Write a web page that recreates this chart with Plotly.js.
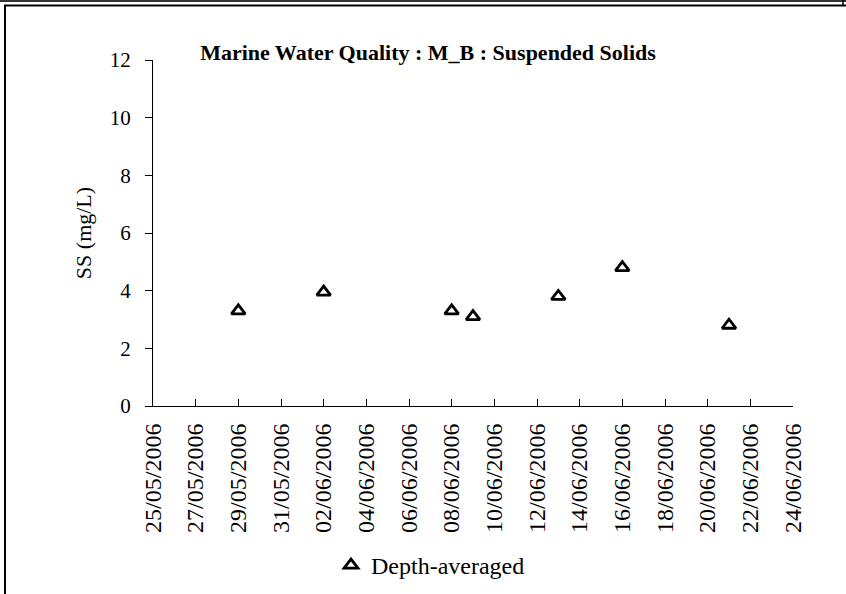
<!DOCTYPE html>
<html>
<head>
<meta charset="utf-8">
<script src="https://cdn.plot.ly/plotly-3.0.1.min.js"></script>
<style>html,body{margin:0;padding:0;background:#fff;}#chart{width:846px;height:594px;}</style>
</head>
<body>
<div id="chart"></div>
<script>
// ---- data ----
var sampleDates = ["2006-05-29", "2006-06-02", "2006-06-08", "2006-06-09", "2006-06-13", "2006-06-16", "2006-06-21"];
var ssDepthAveraged = [3.3, 3.95, 3.3, 3.1, 3.8, 4.8, 2.8];
var seriesName = "Depth-averaged";
var chartTitle = "Marine Water Quality : M_B : Suspended Solids";
var yAxisTitle = "SS (mg/L)";
var xRange = ["2006-05-25", "2006-06-24"];
var yRange = [0, 12];

// ---- layout helpers (pixel -> paper) ----
var W = 846, H = 594;
var L = 153, R = 53, T = 60, B = 188;
var pw = W - L - R, ph = H - T - B;
function fx(px) { return (px - L) / pw; }
function fy(py) { return (H - B - py) / ph; }

var serif = "Liberation Serif, Times New Roman, serif";

var trace = {
  x: sampleDates,
  y: ssDepthAveraged,
  type: "scatter",
  mode: "markers",
  name: seriesName,
  marker: { symbol: "triangle-up-open", size: 12, color: "#000", line: { width: 2.8, color: "#000" } },
  cliponaxis: false
};

var frameShapes = [
  { type: "line", xref: "paper", yref: "paper", x0: fx(0), x1: fx(846), y0: fy(1), y1: fy(1), line: { color: "#333", width: 2 } },
  { type: "line", xref: "paper", yref: "paper", x0: fx(4), x1: fx(846), y0: fy(5.5), y1: fy(5.5), line: { color: "#000", width: 2 } },
  { type: "line", xref: "paper", yref: "paper", x0: fx(5), x1: fx(5), y0: fy(5), y1: fy(594), line: { color: "#000", width: 2 } },
  { type: "line", xref: "paper", yref: "paper", x0: fx(843), x1: fx(843), y0: fy(0), y1: fy(6), line: { color: "#000", width: 1.5 } }
];

var layout = {
  width: W, height: H,
  margin: { l: L, r: R, t: T, b: B, autoexpand: false },
  paper_bgcolor: "#fff",
  plot_bgcolor: "#fff",
  font: { family: serif, color: "#000" },
  title: {
    text: "<b>" + chartTitle + "</b>",
    font: { family: serif, size: 22, color: "#000" },
    xref: "container", yref: "container",
    x: 428 / W, xanchor: "center",
    y: 1 - 52 / H, yanchor: "middle"
  },
  xaxis: {
    type: "date",
    range: xRange,
    tick0: "2006-05-25",
    dtick: 2 * 86400000,
    tickformat: "%d/%m/%Y",
    tickangle: -90,
    ticks: "inside",
    ticklen: 7,
    tickcolor: "#000",
    tickwidth: 1,
    ticklabelstandoff: 7,
    showline: true, linecolor: "#000", linewidth: 1,
    showgrid: false, zeroline: false,
    tickfont: { family: serif, size: 24, color: "#000" },
    fixedrange: true
  },
  yaxis: {
    range: yRange,
    dtick: 2,
    ticks: "outside",
    ticklen: 7,
    tickcolor: "#000",
    tickwidth: 1,
    ticklabelstandoff: 10,
    showline: true, linecolor: "#000", linewidth: 1,
    showgrid: false, zeroline: false,
    tickfont: { family: serif, size: 21, color: "#000" },
    title: { text: yAxisTitle, font: { family: serif, size: 22, color: "#000" }, standoff: 12 },
    fixedrange: true
  },
  showlegend: true,
  legend: {
    x: fx(331), y: fy(543), xanchor: "left", yanchor: "top",
    orientation: "h",
    valign: "top",
    bgcolor: "rgba(0,0,0,0)",
    font: { family: serif, size: 24, color: "#000" },
    itemwidth: 30
  },
  shapes: frameShapes
};

Plotly.newPlot("chart", [trace], layout, { displayModeBar: false, staticPlot: true });
</script>
</body>
</html>
